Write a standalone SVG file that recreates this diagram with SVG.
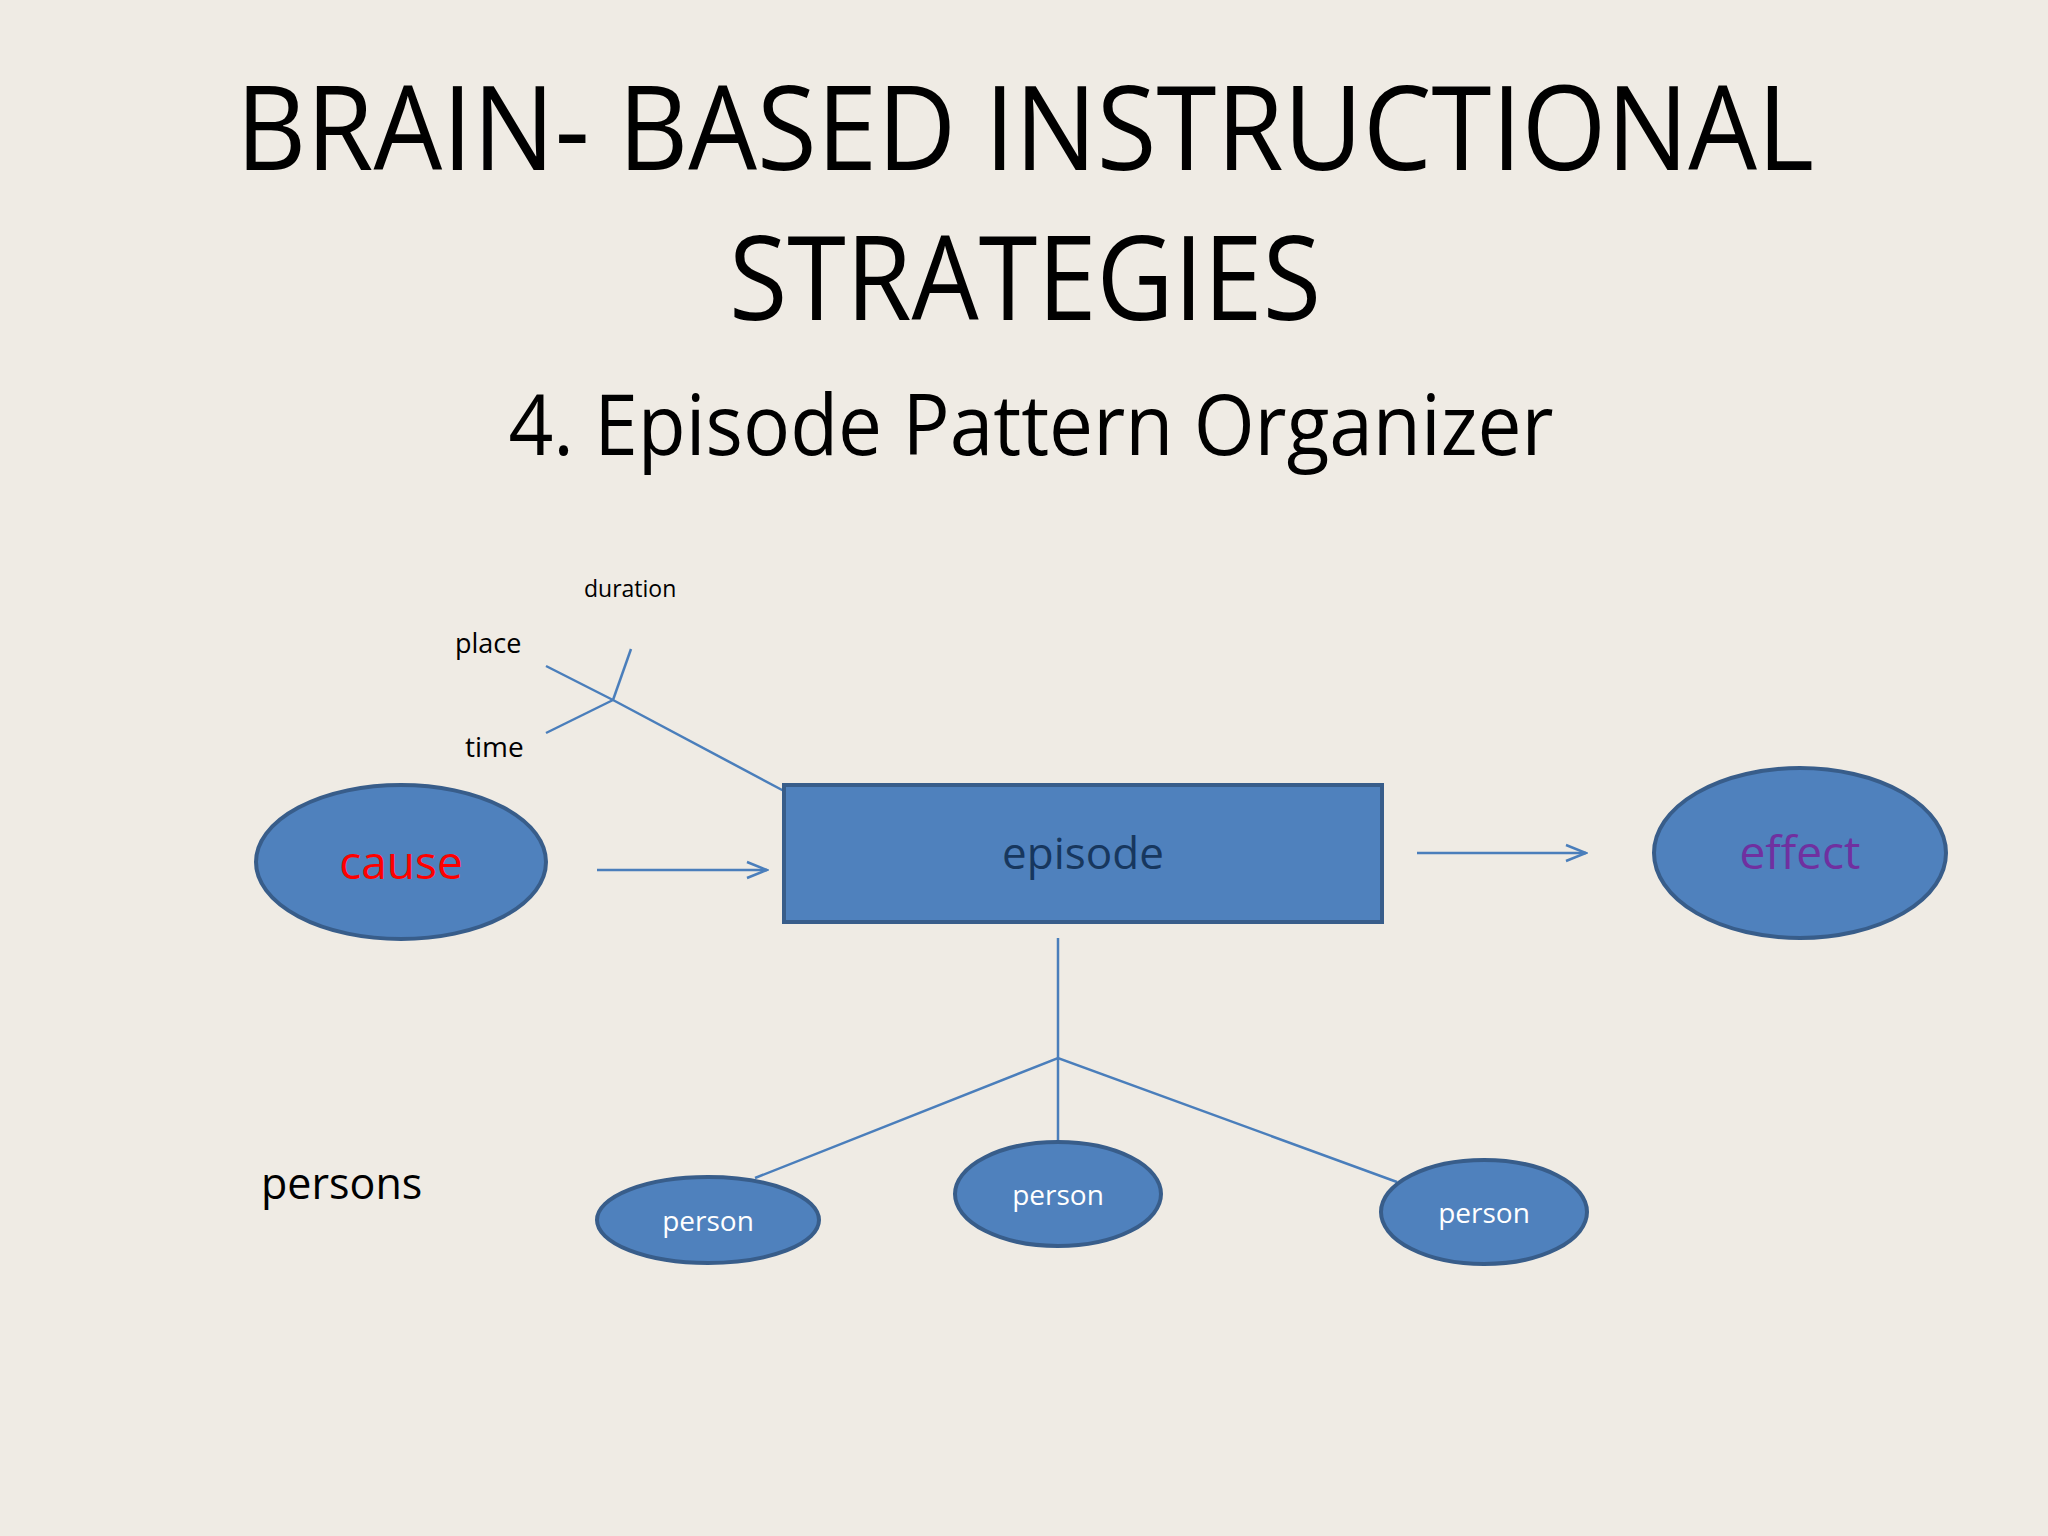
<svg xmlns="http://www.w3.org/2000/svg" width="2048" height="1536" viewBox="0 0 2048 1536">
<style>
text{font-family:"Open Sans","Noto Sans","Liberation Sans",sans-serif}
.n{fill:#4f81bd;stroke:#385d8a;stroke-width:4}
.c{stroke:#4a7ebb;stroke-width:2.5;fill:none}
</style>
<defs><marker id="a" markerWidth="24" markerHeight="20" refX="22" refY="10" orient="auto" markerUnits="userSpaceOnUse"><path d="M2,2 L22,10 L2,18" fill="none" stroke="#4a7ebb" stroke-width="2.5"/></marker></defs>
<rect width="2048" height="1536" fill="#efebe4"/>
<text x="1025" y="170" font-size="118" text-anchor="middle" textLength="1578" lengthAdjust="spacingAndGlyphs">BRAIN- BASED INSTRUCTIONAL</text>
<text x="1025" y="320" font-size="118" text-anchor="middle" textLength="592" lengthAdjust="spacingAndGlyphs">STRATEGIES</text>
<text x="1031" y="455" font-size="84" text-anchor="middle" textLength="1045" lengthAdjust="spacingAndGlyphs">4. Episode Pattern Organizer</text>
<g id="connectors">
<polyline class="c" points="546,666 613,700 784,791"/>
<line class="c" x1="546" y1="733" x2="613" y2="700"/>
<line class="c" x1="631" y1="649" x2="613" y2="700"/>
<line class="c" x1="597" y1="870" x2="767" y2="870" marker-end="url(#a)"/>
<line class="c" x1="1417" y1="853" x2="1586" y2="853" marker-end="url(#a)"/>
<line class="c" x1="1058" y1="938" x2="1058" y2="1142"/>
<polyline class="c" points="755,1178 1058,1058 1397,1182"/>
</g>
<g id="labels" font-size="23">
<text x="584" y="597">duration</text>
<text x="455" y="653" font-size="27">place</text>
<text x="465" y="757" font-size="28">time</text>
<text x="261" y="1199" font-size="43">persons</text>
</g>
<g id="cause"><ellipse class="n" cx="401" cy="862" rx="145" ry="77"/><text x="401" y="879" font-size="46" fill="#ff0000" text-anchor="middle">cause</text></g>
<g id="episode"><rect class="n" x="784" y="785" width="598" height="137"/><text x="1083" y="869" font-size="44" fill="#17375e" text-anchor="middle">episode</text></g>
<g id="effect"><ellipse class="n" cx="1800" cy="853" rx="146" ry="85"/><text x="1800" y="869" font-size="46" fill="#7030a0" text-anchor="middle">effect</text></g>
<g id="person1"><ellipse class="n" cx="708" cy="1220" rx="111" ry="43"/><text x="708" y="1231" font-size="28" fill="#fff" text-anchor="middle">person</text></g>
<g id="person2"><ellipse class="n" cx="1058" cy="1194" rx="103" ry="52"/><text x="1058" y="1205" font-size="28" fill="#fff" text-anchor="middle">person</text></g>
<g id="person3"><ellipse class="n" cx="1484" cy="1212" rx="103" ry="52"/><text x="1484" y="1223" font-size="28" fill="#fff" text-anchor="middle">person</text></g>
</svg>
